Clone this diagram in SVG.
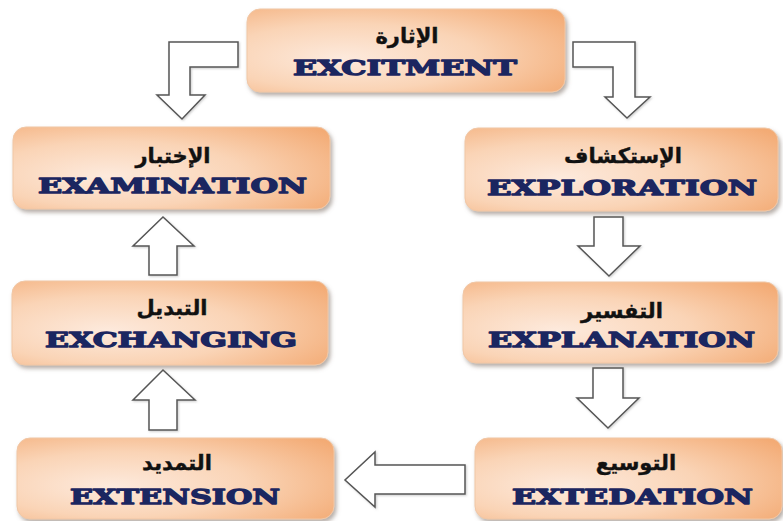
<svg xmlns="http://www.w3.org/2000/svg" width="783" height="521" viewBox="0 0 783 521">
<defs>
<radialGradient id="bg" cx="0.35" cy="0.55" r="0.8" fx="0.3" fy="0.6">
<stop offset="0" stop-color="#fdeadd"/>
<stop offset="0.5" stop-color="#fad4b6"/>
<stop offset="1" stop-color="#f3ab75"/>
</radialGradient>
<filter id="sh" x="-10%" y="-10%" width="125%" height="135%">
<feDropShadow dx="2" dy="3" stdDeviation="2" flood-color="#7a6a60" flood-opacity="0.55"/>
</filter>
<filter id="ash" x="-20%" y="-20%" width="140%" height="140%">
<feDropShadow dx="1" dy="1" stdDeviation="1" flood-color="#999" flood-opacity="0.5"/>
</filter>
</defs>
<style>
.box{fill:url(#bg);stroke:#f0c7a6;stroke-width:1;filter:url(#sh)}
.ar{font-family:"DejaVu Sans",sans-serif;font-weight:bold;font-size:21px;fill:#111;stroke:#111;stroke-width:0.4;text-anchor:middle}
.en{font-family:"DejaVu Serif",serif;font-weight:900;font-size:21px;fill:#1b2660;stroke:#1b2660;stroke-width:1.3;stroke-linejoin:round}
.arr{fill:#fff;stroke:#555;stroke-width:1.5;stroke-linejoin:miter;filter:url(#ash)}
</style>
<rect width="783" height="521" fill="#fff"/>
<g id="connectors">
<path class="arr" d="M238,42 L169,42 L169,95 L157,95 L182,119 L205,95 L190,95 L190,67 L238,67 Z"/>
<path class="arr" d="M573,42 L635,42 L635,97 L650,97 L627,118 L605,97 L613,97 L613,67 L573,67 Z"/>
<path class="arr" d="M149,275 L149,246 L133,246 L163,217 L194,246 L177,246 L177,275 Z"/>
<path class="arr" d="M149,430 L149,400 L133,400 L163,370 L195,400 L177,400 L177,430 Z"/>
<path class="arr" d="M594,217 L623,217 L623,246 L640,246 L609,276 L578,246 L594,246 Z"/>
<path class="arr" d="M593,368 L623,368 L623,398 L639,398 L608,428 L577,398 L593,398 Z"/>
<path class="arr" d="M465,465 L465,494 L375,494 L375,507 L345,480 L375,452 L375,465 Z"/>
</g>
<g id="n-excitment">
<rect class="box" x="247" y="9" width="318" height="83" rx="13"/>
<text class="ar" x="407" y="43">الإثارة</text>
<text class="en" x="293" y="75" textLength="224" lengthAdjust="spacingAndGlyphs">EXCITMENT</text>
</g>
<g id="n-examination">
<rect class="box" x="13" y="127" width="317" height="82" rx="13"/>
<text class="ar" x="173" y="163">الإختبار</text>
<text class="en" x="38" y="193" textLength="269" lengthAdjust="spacingAndGlyphs">EXAMINATION</text>
</g>
<g id="n-exploration">
<rect class="box" x="465" y="128" width="313" height="83" rx="13"/>
<text class="ar" x="623" y="163">الإستكشاف</text>
<text class="en" x="487" y="195" textLength="270" lengthAdjust="spacingAndGlyphs">EXPLORATION</text>
</g>
<g id="n-exchanging">
<rect class="box" x="12" y="281" width="316" height="84" rx="13"/>
<text class="ar" x="172" y="315">التبديل</text>
<text class="en" x="45" y="347" textLength="252" lengthAdjust="spacingAndGlyphs">EXCHANGING</text>
</g>
<g id="n-explanation">
<rect class="box" x="463" y="282" width="315" height="81" rx="13"/>
<text class="ar" x="622" y="318">التفسير</text>
<text class="en" x="488" y="347" textLength="267" lengthAdjust="spacingAndGlyphs">EXPLANATION</text>
</g>
<g id="n-extension">
<rect class="box" x="17" y="438" width="317" height="81" rx="13"/>
<text class="ar" x="177" y="470">التمديد</text>
<text class="en" x="70" y="504" textLength="210" lengthAdjust="spacingAndGlyphs">EXTENSION</text>
</g>
<g id="n-extedation">
<rect class="box" x="475" y="438" width="307" height="81" rx="13"/>
<text class="ar" x="636" y="470">التوسيع</text>
<text class="en" x="512" y="504" textLength="241" lengthAdjust="spacingAndGlyphs">EXTEDATION</text>
</g>
</svg>
